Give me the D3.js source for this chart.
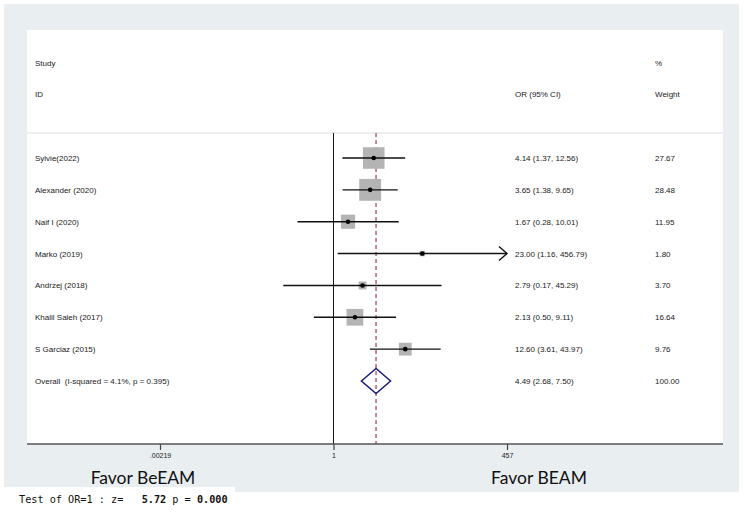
<!DOCTYPE html>
<html><head><meta charset="utf-8">
<script src="https://cdn.jsdelivr.net/npm/d3@7"></script>
<style>body{margin:0;background:#fff}svg{display:block}text{white-space:pre}</style>
</head><body>
<script>
const studies = ["Sylvie(2022)", "Alexander (2020)", "Naif I (2020)", "Marko (2019)", "Andrzej (2018)", "Khalil Saleh (2017)", "S Garciaz (2015)"];
const orValues = [4.14, 3.65, 1.67, 23.00, 2.79, 2.13, 12.60];
const ciLow = [1.37, 1.38, 0.28, 1.16, 0.17, 0.50, 3.61];
const ciHigh = [12.56, 9.65, 10.01, 456.79, 45.29, 9.11, 43.97];
const weights = [27.67, 28.48, 11.95, 1.80, 3.70, 16.64, 9.76];
const overallLabel = "Overall  (I-squared = 4.1%, p = 0.395)";
const overall = [4.49, 2.68, 7.50];
const overallWeight = 100.00;
const tickValues = [0.00219, 1, 457];
const tickLabels = [".00219", "1", "457"];

const W = 744, H = 513;
const svg = d3.select("body").append("svg").attr("width", W).attr("height", H);
const font = "'Liberation Sans', Arial, sans-serif";

// backgrounds
svg.append("rect").attr("x", 4).attr("y", 4).attr("width", 735).attr("height", 488).attr("fill", "#e9eef1");
svg.append("rect").attr("x", 27).attr("y", 30).attr("width", 696).attr("height", 414).attr("fill", "#fff");
svg.append("rect").attr("x", 0).attr("y", 487).attr("width", 235).attr("height", 26).attr("fill", "#fff");

const x = d3.scaleLog().domain([tickValues[0], tickValues[2]]).range([160, 507]);
const rows = studies.concat([overallLabel]);
const y = d3.scalePoint().domain(d3.range(rows.length)).range([158, 381]);
const boxSize = d3.scaleSqrt().domain([0, 100]).range([0, 41]);

// header
const hdr = svg.append("g").attr("font-family", font).attr("font-size", 8).attr("fill", "#1a1a1a");
hdr.append("text").attr("x", 35).attr("y", 66).text("Study");
hdr.append("text").attr("x", 35).attr("y", 97).text("ID");
hdr.append("text").attr("x", 515).attr("y", 97).text("OR (95% CI)");
hdr.append("text").attr("x", 655).attr("y", 66).text("%");
hdr.append("text").attr("x", 655).attr("y", 97).text("Weight");

svg.append("line").attr("x1", 27).attr("x2", 723).attr("y1", 133).attr("y2", 133)
  .attr("stroke", "#dadde0").attr("stroke-width", 1.2);

// null line
svg.append("line").attr("x1", x(1)).attr("x2", x(1)).attr("y1", 133).attr("y2", 444)
  .attr("stroke", "#111").attr("stroke-width", 1);
// overall dashed line
svg.append("line").attr("x1", x(overall[0])).attr("x2", x(overall[0])).attr("y1", 133).attr("y2", 444)
  .attr("stroke", "#a85a6c").attr("stroke-width", 1.4).attr("stroke-dasharray", "4,3");

// studies
const maxV = tickValues[2];
studies.forEach((s, i) => {
  const cy = y(i);
  const b = boxSize(weights[i]);
  svg.append("rect").attr("x", x(orValues[i]) - b / 2).attr("y", cy - b / 2)
    .attr("width", b).attr("height", b).attr("fill", "#b4b4b4");
  const hi = Math.min(ciHigh[i], maxV);
  svg.append("line").attr("x1", x(ciLow[i])).attr("x2", x(hi)).attr("y1", cy).attr("y2", cy)
    .attr("stroke", "#111").attr("stroke-width", 1.4);
  if (ciHigh[i] >= maxV * 0.99) {
    const xa = x(hi);
    svg.append("path").attr("d", `M${xa - 8},${cy - 7}L${xa},${cy}L${xa - 8},${cy + 7}`)
      .attr("fill", "none").attr("stroke", "#111").attr("stroke-width", 1.4);
  }
  svg.append("circle").attr("cx", x(orValues[i])).attr("cy", cy).attr("r", 2.3).attr("fill", "#000");
});

// overall diamond
const oy = y(studies.length);
svg.append("path")
  .attr("d", `M${x(overall[1])},${oy}L${x(overall[0])},${oy - 12.5}L${x(overall[2])},${oy}L${x(overall[0])},${oy + 12.5}Z`)
  .attr("fill", "none").attr("stroke", "#1c1c78").attr("stroke-width", 1.5);

// text columns
const fmt = d3.format(".2f");
const tg = svg.append("g").attr("font-family", font).attr("font-size", 8).attr("fill", "#1a1a1a");
rows.forEach((r, i) => {
  const cy = y(i);
  tg.append("text").attr("x", 35).attr("y", cy + 3).text(r);
  const o = i < studies.length ? [orValues[i], ciLow[i], ciHigh[i]] : overall;
  const w = i < studies.length ? weights[i] : overallWeight;
  tg.append("text").attr("x", 515).attr("y", cy + 3).text(`${fmt(o[0])} (${fmt(o[1])}, ${fmt(o[2])})`);
  tg.append("text").attr("x", 655).attr("y", cy + 3).text(fmt(w));
});

// axis
svg.append("line").attr("x1", 27).attr("x2", 723).attr("y1", 444).attr("y2", 444)
  .attr("stroke", "#555").attr("stroke-width", 1.5);
const axis = d3.axisBottom(x).tickValues(tickValues).tickSize(6).tickPadding(3)
  .tickFormat((d, i) => tickLabels[i]);
const ag = svg.append("g").attr("transform", "translate(0,444)").call(axis);
ag.select(".domain").remove();
ag.selectAll("line").attr("stroke", "#444").attr("stroke-width", 1.2);
ag.selectAll("text").attr("font-family", font).attr("font-size", 7).attr("fill", "#222");

// favor labels
const fav = svg.append("g").attr("font-family", "Lato, 'Open Sans', sans-serif").attr("font-size", 17.5)
  .attr("fill", "#111").attr("text-anchor", "middle");
fav.append("text").attr("x", 143).attr("y", 484).text("Favor BeEAM");
fav.append("text").attr("x", 539).attr("y", 484).text("Favor BEAM");

// test text
const tt = svg.append("text").attr("x", 19).attr("y", 503)
  .attr("font-family", "'DejaVu Sans Mono', monospace").attr("font-size", 10.2).attr("fill", "#111");
tt.append("tspan").text("Test of OR=1 : z=   ");
tt.append("tspan").attr("font-weight", "bold").text("5.72");
tt.append("tspan").text(" p = ");
tt.append("tspan").attr("font-weight", "bold").text("0.000");
</script>
</body></html>
